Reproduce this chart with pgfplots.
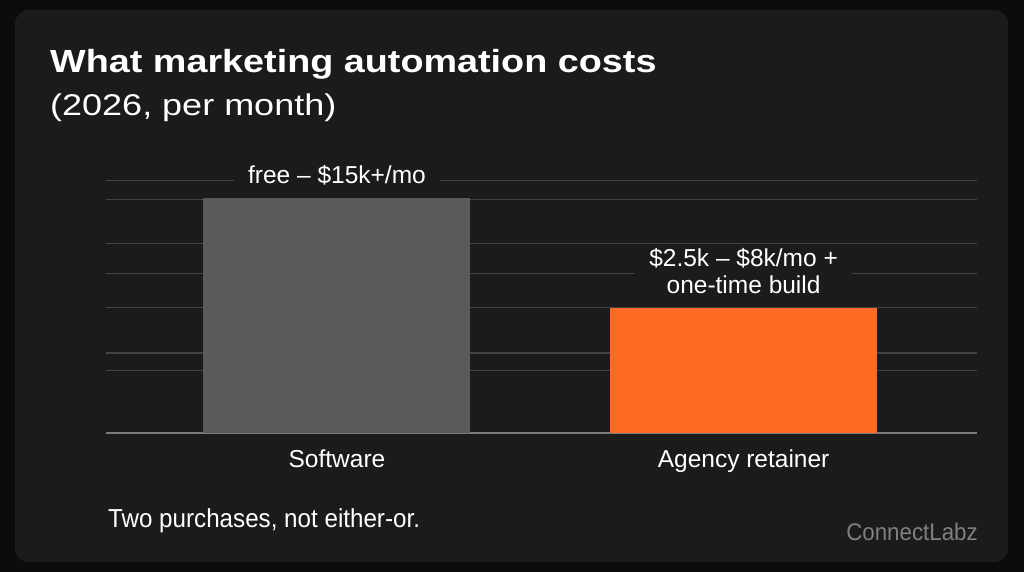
\documentclass[border=0pt]{standalone}
\usepackage{pgfplots}
\pgfplotsset{compat=1.18}
\usepackage{fontspec}
\setmainfont{Liberation Sans}
\newfontfamily\titlefont{Liberation Sans}[FakeStretch=1.18]
\newfontfamily\subfont{Liberation Sans}[FakeStretch=1.2]
\newfontfamily\condfont{Liberation Sans}[FakeStretch=0.93]
\definecolor{outerbg}{HTML}{0C0C0C}
\definecolor{panel}{HTML}{1B1B1B}
\definecolor{gridc}{HTML}{424242}
\definecolor{basec}{HTML}{7A7A7A}
\definecolor{barGray}{HTML}{5A5A5A}
\definecolor{barOrange}{HTML}{FF6A24}
\definecolor{brand}{HTML}{808080}
\begin{document}
\begin{tikzpicture}
\fill[outerbg] (0pt,0pt) rectangle (1024pt,-572pt);
\fill[panel, rounded corners=14pt] (15pt,-10pt) rectangle (1008pt,-562pt);
\node[anchor=base west, text=white, font=\titlefont\fontsize{32}{36}\selectfont\bfseries, inner sep=0] at (50pt,-73pt) {What marketing automation costs};
\node[anchor=base west, text=white, font=\subfont\fontsize{30}{34}\selectfont, inner sep=0] at (50pt,-116pt) {(2026, per month)};
\begin{axis}[
  at={(106pt,-433pt)}, anchor=south west,
  scale only axis, width=871pt, height=252.3pt,
  xmin=-0.568, xmax=1.574, ymin=0, ymax=16.1,
  axis x line*=bottom, axis y line*=left,
  x axis line style={draw=basec, line width=1.4pt},
  y axis line style={draw=none},
  major tick length=0,
  xtick={0,1}, xticklabels={Software, Agency retainer},
  xticklabel style={anchor=base, yshift=-34pt, text=white, font=\fontsize{24.5}{28}\selectfont},
  ytick={4,5.1,8,10.2,12.1,14.9,16.1}, yticklabels={},
  ymajorgrids, grid style={draw=gridc, line width=1.3pt},
  clip=false,
]
\addplot[ybar, bar width=267pt, bar shift=0pt, fill=barGray, draw=none] coordinates {(0,15)};
\addplot[ybar, bar width=267pt, bar shift=0pt, fill=barOrange, draw=none] coordinates {(1,8)};
\node[anchor=base, fill=panel, text=white, inner xsep=14pt, inner ysep=2pt, font=\fontsize{24.5}{28}\selectfont] at (axis cs:0,15.93) {free – \$15k+/mo};
\node[fill=panel, text=white, inner xsep=14pt, inner ysep=2pt, align=center, font=\fontsize{24.5}{27.5}\selectfont] at (axis cs:1,10.32) {\$2.5k – \$8k/mo +\\one-time build};
\end{axis}
\node[anchor=base west, text=white, font=\condfont\fontsize{26}{30}\selectfont, inner sep=0] at (108pt,-527pt) {Two purchases, not either-or.};
\node[anchor=base east, text=brand, font=\condfont\fontsize{24}{28}\selectfont, inner sep=0] at (978pt,-540pt) {ConnectLabz};
\end{tikzpicture}
\end{document}
